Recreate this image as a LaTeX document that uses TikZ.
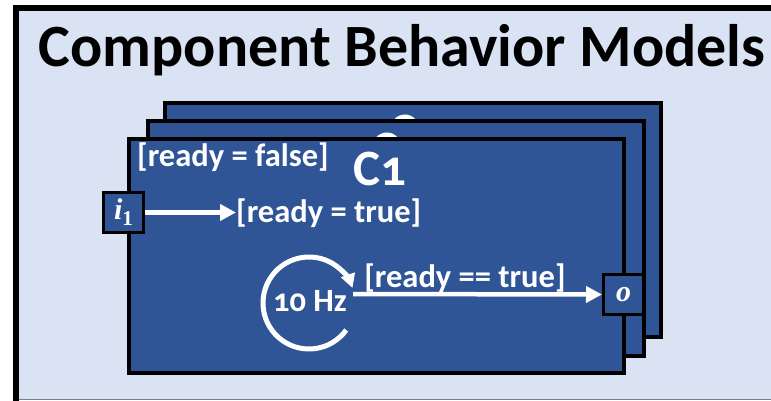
\documentclass[tikz,border=0pt]{standalone}
\usepackage{fontspec}
\setmainfont{Carlito}[Numbers=OldStyle]
\newfontfamily\portfont{Liberation Serif}
\usetikzlibrary{arrows.meta,calc}
\definecolor{panelbg}{HTML}{DAE3F3}
\definecolor{compblue}{HTML}{2F5597}
\newcommand{\portsub}[1]{\raisebox{-6pt}{\fontsize{21}{21}\selectfont\upshape #1}}
\tikzset{
  compbox/.style={draw=black, line width=3.5pt, fill=compblue},
  portbox/.style={draw=black, line width=3pt, fill=compblue, minimum size=40pt,
    inner sep=0pt, text=white, font=\portfont\fontsize{30}{30}\selectfont\bfseries\itshape},
  guard/.style={text=white, inner sep=0pt, font=\fontsize{32.5}{32.5}\selectfont\bfseries},
  complabel/.style={text=white, inner sep=0pt, font=\fontsize{51}{51}\selectfont\bfseries},
  flow/.style={draw=white, line width=4.5pt,
    -{Triangle[length=16pt, width=16pt]}},
}
\begin{document}
\begin{tikzpicture}[x=1pt, y=-1pt]
  \useasboundingbox (0,0) rectangle (771,401);
  \fill[white] (0,0) rectangle (771,401);
  % panel background and its frame
  \fill[panelbg] (16,8) rectangle (780,399);
  \draw[black, line width=5.5pt] (16,401) -- (16,8) -- (780,8);
  \draw[gray, line width=1.2pt] (19,399.5) -- (771,399.5);
  \node[anchor=base, inner sep=0pt, font=\fontsize{60}{60}\selectfont\bfseries]
    (title) at (402,67) {Component Behavior Models};

  % stacked component models, back to front
  \draw[compbox] (165,103) rectangle (661,337);
  \begin{scope}
    \clip (165,103) rectangle (661,121);
    \node[complabel, anchor=base] (c3) at (416,149) {C3};
  \end{scope}
  \draw[compbox] (148,121) rectangle (644,356);
  \begin{scope}
    \clip (148,121) rectangle (644,139);
    \node[complabel, anchor=base] (c2) at (398,167) {C2};
  \end{scope}
  \draw[compbox] (129,139) rectangle (624,373);
  \node[complabel, anchor=base] (c1) at (380,185) {C1};

  % guards and ports of the front model
  \node[guard, anchor=base] (init) at (233,167) {[ready = false]};
  \node[portbox] (in) at (123.5,212.5) {i\portsub{1}};
  \node[guard, anchor=base west] (set) at (236,222) {[ready = true]};
  \draw[flow] (in.east) -- (set.west |- in.east);

  \node[portbox] (out) at (623.5,294.5) {o};

  % periodic trigger
  \coordinate (clk) at (309,303);
  \node[guard, anchor=base] (rate) at (310,311) {10 Hz};
  \draw[draw=white, line width=5pt, -{Triangle[length=14pt, width=14pt]}]
    ($(clk)+(36:46)$) arc[start angle=36, end angle=341, radius=46];
  \coordinate (fire) at (353,294);
  \draw[flow] (fire) -- (out.west);
  \node[guard, anchor=base] (send) at (465,287) {[ready == true]};
\end{tikzpicture}
\end{document}
